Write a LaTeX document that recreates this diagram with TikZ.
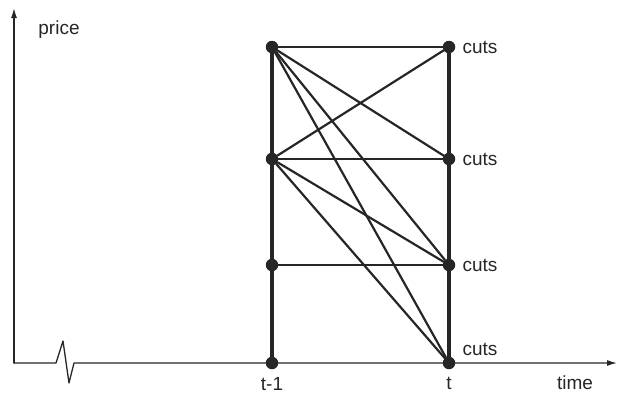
\documentclass[tikz,border=0pt]{standalone}
\usepackage{fontspec}
\setmainfont{Liberation Sans}
\definecolor{inkgray}{HTML}{262626}
\usetikzlibrary{arrows.meta,positioning}

\begin{document}
\begin{tikzpicture}[
  x=1pt,
  y=-1pt,
  line join=round,
  line cap=round,
  axis/.style={draw=inkgray,line width=1.3pt,-{Latex[length=10pt,width=6pt]}},
  column/.style={draw=inkgray,line width=3.8pt},
  link/.style={draw=inkgray,line width=2.2pt},
  dot/.style={circle,fill=inkgray,inner sep=0pt,minimum size=12.5pt},
  lbl/.style={font=\fontsize{19}{22}\selectfont,text=inkgray,inner sep=2pt}
]
  \useasboundingbox (0,0) rectangle (627,394);

  % axes, with a break on the time axis
  \coordinate (O) at (14,363);
  \coordinate (ytip) at (14,8);
  \coordinate (xtip) at (617,363);
  \coordinate (brk1) at (56,363);
  \coordinate (brk2) at (63,341);
  \coordinate (brk3) at (69,383);
  \coordinate (brk4) at (74,363);
  \draw[axis] (O) -- (ytip);
  \draw[axis] (O) -- (brk1) -- (brk2) -- (brk3) -- (brk4) -- (xtip);

  % price levels at t-1 (a) and t (b)
  \node[dot] (a1) at (272,47) {};
  \node[dot] (a2) at (272,159) {};
  \node[dot] (a3) at (272,265) {};
  \node[dot] (a4) at (272,363) {};
  \node[dot] (b1) at (449,47) {};
  \node[dot] (b2) at (449,159) {};
  \node[dot] (b3) at (449,265) {};
  \node[dot] (b4) at (449,363) {};

  \draw[column] (a1) -- (a4);
  \draw[column] (b1) -- (b4);

  \foreach \j in {1,...,4} {
    \draw[link] (a1) -- (b\j);
    \draw[link] (a2) -- (b\j);
  }
  \draw[link] (a3) -- (b3);

  \node[lbl,right=5pt of b1] (cut1) {cuts};
  \node[lbl,right=5pt of b2] (cut2) {cuts};
  \node[lbl,right=5pt of b3] (cut3) {cuts};
  \node[lbl,right=5pt of b4,yshift=14pt] (cut4) {cuts};

  \node[lbl,below=6pt of a4] (tprev) {t-1};
  \node[lbl,below=6pt of b4] (tnow) {t};
  \node[lbl] (time) at (575,383) {time};
  \node[lbl] (price) at (59,30) {price};
\end{tikzpicture}
\end{document}
